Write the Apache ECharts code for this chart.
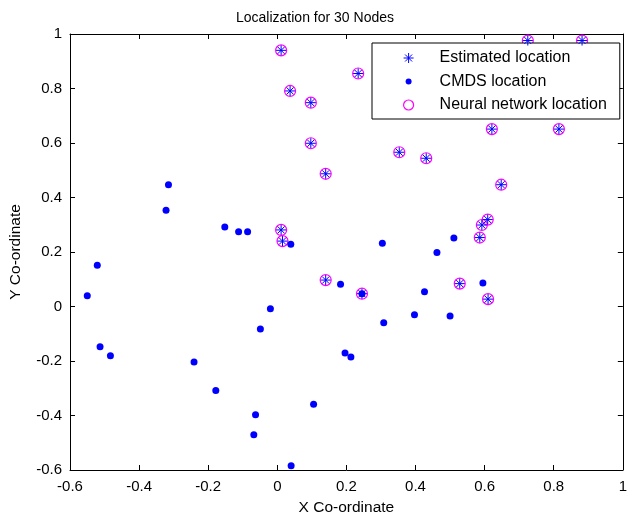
<!DOCTYPE html>
<html>
<head>
<meta charset="utf-8">
<script src="https://cdn.jsdelivr.net/npm/echarts@6/dist/echarts.min.js"></script>
<style>html,body{margin:0;padding:0;background:#fff}#c{width:630px;height:521px}</style>
</head>
<body>
<div id="c"></div>
<script>
// Estimated location (stars) — the Neural network location (circles) coincide
var estimatedX = [0.011, 0.037, 0.097, 0.097, 0.140, 0.011, 0.015, 0.234, 0.725, 0.882, 0.621, 0.815, 0.353, 0.431, 0.648, 0.609, 0.592, 0.586, 0.140, 0.245, 0.528, 0.610];
var estimatedY = [0.940, 0.791, 0.748, 0.599, 0.487, 0.281, 0.240, 0.855, 0.976, 0.976, 0.651, 0.651, 0.566, 0.544, 0.447, 0.319, 0.299, 0.253, 0.097, 0.047, 0.084, 0.027];
var neuralX = [0.011, 0.037, 0.097, 0.097, 0.140, 0.011, 0.015, 0.234, 0.725, 0.882, 0.621, 0.815, 0.353, 0.431, 0.648, 0.609, 0.592, 0.586, 0.140, 0.245, 0.528, 0.610];
var neuralY = [0.940, 0.791, 0.748, 0.599, 0.487, 0.281, 0.240, 0.855, 0.976, 0.976, 0.651, 0.651, 0.566, 0.544, 0.447, 0.319, 0.299, 0.253, 0.097, 0.047, 0.084, 0.027];
// CMDS location (dots)
var cmdsX = [-0.315, -0.322, -0.152, -0.112, -0.086, 0.039, 0.304, 0.511, 0.462, -0.521, -0.550, 0.183, -0.020, -0.049, -0.513, -0.483, -0.241, -0.178, -0.063, -0.068, 0.040, 0.105, 0.196, 0.213, 0.426, 0.595, 0.308, 0.397, 0.500, 0.245];
var cmdsY = [0.447, 0.353, 0.292, 0.274, 0.274, 0.228, 0.232, 0.251, 0.198, 0.151, 0.039, 0.082, -0.008, -0.083, -0.148, -0.181, -0.204, -0.308, -0.397, -0.471, -0.584, -0.359, -0.171, -0.185, 0.054, 0.086, -0.060, -0.030, -0.035, 0.047];
var seriesNames = ['Estimated location', 'CMDS location', 'Neural network location'];
var titleText = 'Localization for 30 Nodes';
var xName = 'X Co-ordinate';
var yName = 'Y Co-ordinate';
var axisMin = -0.6, axisMax = 1, axisStep = 0.2;

function pairs(xs, ys) { return xs.map(function (x, i) { return [x, ys[i]]; }); }
function fmt(v) { var r = Math.round(v * 10) / 10; return r === 0 ? '0' : String(r); }

var FONT = 'Liberation Sans, Arial, Helvetica, sans-serif';
var STAR = 'path://M0,-5L0,5M-5,0L5,0M-3.5,-3.5L3.5,3.5M-3.5,3.5L3.5,-3.5';
var DOT_ICON = 'path://M-5,-5M5,5M-3,0A3,3 0 1,0 3,0A3,3 0 1,0 -3,0Z';

var chart = echarts.init(document.getElementById('c'), null, {renderer: 'canvas'});
var labelStyle = {color: '#000', fontSize: 15, fontFamily: FONT, formatter: fmt};
var nameStyle = {fontSize: 15.5, fontFamily: FONT, color: '#000'};
function ax(extra) {
  return Object.assign({
    type: 'value', min: axisMin, max: axisMax, interval: axisStep,
    splitLine: {show: false},
    axisLine: {show: true, onZero: false, lineStyle: {color: '#000', width: 1}},
    axisTick: {show: true, inside: true, length: 5, lineStyle: {color: '#000'}}
  }, extra);
}

chart.setOption({
  animation: false,
  backgroundColor: '#fff',
  title: {text: titleText, left: 'center', top: 6, textStyle: {fontSize: 14, fontWeight: 'normal', color: '#000', fontFamily: FONT}},
  grid: {left: 68, top: 34, width: 559, height: 438},
  legend: {
    orient: 'vertical', left: 372, top: 43,
    padding: [7, 13, 6, 31], itemGap: 7.5, itemWidth: 52, itemHeight: 10,
    backgroundColor: '#fff', borderColor: '#000', borderWidth: 1,
    textStyle: {fontSize: 16, fontFamily: FONT, color: '#000', lineHeight: 16},
    data: [
      {name: seriesNames[0], icon: STAR, itemStyle: {color: 'transparent', borderColor: '#0000ff', borderWidth: 1}},
      {name: seriesNames[1], icon: DOT_ICON, itemStyle: {color: '#0000ff', borderWidth: 0}},
      {name: seriesNames[2], icon: 'circle', itemStyle: {color: 'transparent', borderColor: '#ff00ff', borderWidth: 1.2}}
    ]
  },
  xAxis: [
    ax({position: 'bottom', name: xName, nameLocation: 'middle', nameGap: 30, nameTextStyle: nameStyle,
        axisLabel: Object.assign({margin: 9}, labelStyle)}),
    ax({position: 'top', axisLabel: {show: false}})
  ],
  yAxis: [
    ax({position: 'left', name: yName, nameLocation: 'middle', nameGap: 46, nameTextStyle: nameStyle,
        axisLabel: Object.assign({margin: 8}, labelStyle)}),
    ax({position: 'right', axisLabel: {show: false}})
  ],
  series: [
    {name: seriesNames[0], type: 'scatter', symbol: STAR, symbolSize: 10, z: 4,
     itemStyle: {color: 'transparent', borderColor: '#0000ff', borderWidth: 1, opacity: 1},
     data: pairs(estimatedX, estimatedY)},
    {name: seriesNames[1], type: 'scatter', symbol: 'circle', symbolSize: 7, z: 3,
     itemStyle: {color: '#0000ff', opacity: 1},
     data: pairs(cmdsX, cmdsY)},
    {name: seriesNames[2], type: 'scatter', symbol: 'circle', symbolSize: 11, z: 2,
     itemStyle: {color: 'transparent', borderColor: '#ff00ff', borderWidth: 1.2, opacity: 1},
     data: pairs(neuralX, neuralY)}
  ]
});
</script>
</body>
</html>
